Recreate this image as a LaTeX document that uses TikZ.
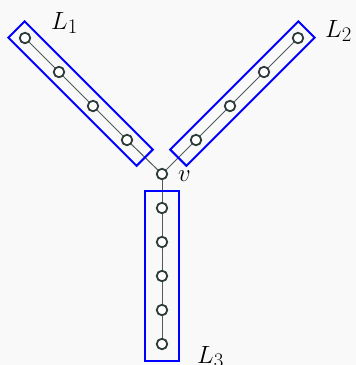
\documentclass[tikz,border=0pt]{standalone}
\usetikzlibrary{calc}
\definecolor{bgc}{HTML}{F9F9F9}
\definecolor{nodec}{HTML}{2E3B3B}
\definecolor{edgec}{HTML}{505A5A}
\begin{document}
\begin{tikzpicture}[x=1pt,y=-1pt,
  vtx/.style={circle,draw=nodec,line width=1.8pt,fill=white,minimum size=10.5pt,inner sep=0pt},
  edge/.style={draw=edgec,line width=1pt},
  lbox/.style={draw=blue,line width=2pt,line join=miter},
  lab/.style={inner sep=0pt,anchor=base west,font=\fontsize{31}{33}\selectfont}]
\fill[bgc] (0,0) rectangle (356,365);
\useasboundingbox (0,0) rectangle (356,365);
% nodes
\node[vtx] (v) at (162,174) {};
\node[vtx] (a1) at (25,38) {};
\node[vtx] (a2) at (59,72) {};
\node[vtx] (a3) at (93,106) {};
\node[vtx] (a4) at (127,140) {};
\node[vtx] (b1) at (298,38) {};
\node[vtx] (b2) at (264,72) {};
\node[vtx] (b3) at (230,106) {};
\node[vtx] (b4) at (196,140) {};
\node[vtx] (c1) at (162,208) {};
\node[vtx] (c2) at (162,242) {};
\node[vtx] (c3) at (162,276) {};
\node[vtx] (c4) at (162,310) {};
\node[vtx] (c5) at (162,344) {};
% edges
\path[edge] (v) -- (a4) (a4) -- (a3) (a3) -- (a2) (a2) -- (a1);
\path[edge] (v) -- (b4) (b4) -- (b3) (b3) -- (b2) (b2) -- (b1);
\path[edge] (v) -- (c1) (c1) -- (c2) (c2) -- (c3) (c3) -- (c4) (c4) -- (c5);
% boxes
\coordinate (p1) at ($(a1.center)!-12pt!(a4.center)$);
\coordinate (p2) at ($(a4.center)!-25pt!(a1.center)$);
\draw[lbox] ($(p1)!11.5pt!90:(p2)$) -- ($(p2)!11.5pt!-90:(p1)$) -- ($(p2)!11.5pt!90:(p1)$) -- ($(p1)!11.5pt!-90:(p2)$) -- cycle;
\coordinate (q1) at ($(b1.center)!-12pt!(b4.center)$);
\coordinate (q2) at ($(b4.center)!-25pt!(b1.center)$);
\draw[lbox] ($(q1)!11.5pt!90:(q2)$) -- ($(q2)!11.5pt!-90:(q1)$) -- ($(q2)!11.5pt!90:(q1)$) -- ($(q1)!11.5pt!-90:(q2)$) -- cycle;
\coordinate (r1) at ($(c1.center)!-17pt!(c5.center)$);
\coordinate (r2) at ($(c5.center)!-17pt!(c1.center)$);
\draw[lbox] ($(r1)!17pt!90:(r2)$) -- ($(r2)!17pt!-90:(r1)$) -- ($(r2)!17pt!90:(r1)$) -- ($(r1)!17pt!-90:(r2)$) -- cycle;
% labels
\node[lab] (l1) at (51,29) {$L_1$};
\node[lab] (l2) at (325,37) {$L_2$};
\node[lab] (l3) at (197,363) {$L_3$};
\node[lab] (lv) at (178,181) {$v$};
\end{tikzpicture}
\end{document}
